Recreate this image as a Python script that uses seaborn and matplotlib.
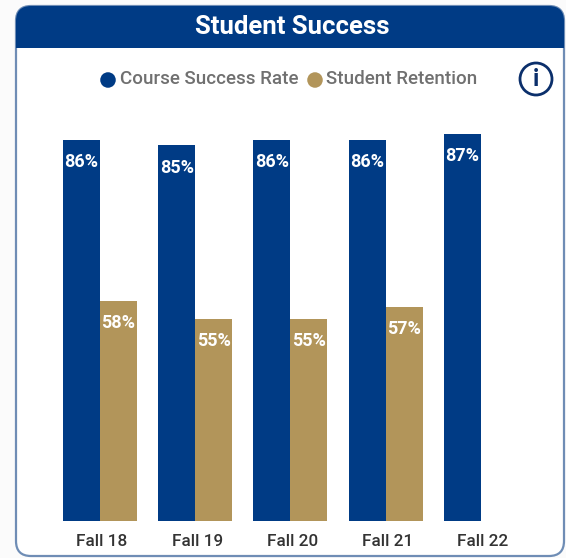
"""
Student Success card: course success rate and retention by fall term
"""
import numpy as np
import pandas as pd
import matplotlib
matplotlib.use('Agg')
import matplotlib.pyplot as plt
from matplotlib.patches import FancyBboxPatch, Rectangle, Circle
from matplotlib.transforms import ScaledTranslation
import seaborn as sns

terms = ['Fall 18', 'Fall 19', 'Fall 20', 'Fall 21', 'Fall 22']
course_success = [86, 85, 86, 86, 87]
retention = [58, 55, 55, 57, np.nan]

NAVY = '#003B85'
GOLD = '#B2955A'
W, H = 566, 558

sns.set_theme(style='white')
plt.rcParams['font.family'] = ['Roboto', 'DejaVu Sans']

df = pd.DataFrame({
    'term': terms * 2,
    'metric': ['Course Success Rate'] * 5 + ['Student Retention'] * 5,
    'value': course_success + retention,
})

fig = plt.figure(figsize=(W / 100, H / 100), dpi=100, facecolor='#FBFBFB')

# card background, in pixel coordinates
bg = fig.add_axes([0, 0, 1, 1])
bg.set_xlim(0, W)
bg.set_ylim(H, 0)
bg.axis('off')
card = FancyBboxPatch((16, 6), 548, 550, boxstyle='round,pad=0,rounding_size=15',
                      fc='white', ec='#6F8DB5', lw=1.6)
bg.add_patch(card)
header = Rectangle((16, 6), 548, 42, fc=NAVY, ec='none')
bg.add_patch(header)
header.set_clip_path(card)
bg.text(292, 27.5, 'Student Success', color='white', fontsize=18.5, fontweight='bold',
        ha='center', va='center')

# legend and info icon
bg.scatter([108, 315], [80, 80], s=125, c=[NAVY, GOLD], linewidths=0)
bg.text(120, 78.5, 'Course Success Rate', color='#707070', fontsize=13.5, fontweight='medium',
        ha='left', va='center')
bg.text(326, 78.5, 'Student Retention', color='#707070', fontsize=13.5, fontweight='medium',
        ha='left', va='center')
bg.add_patch(Circle((536, 79), 16, fc='white', ec='#0B2F6B', lw=2))
bg.text(536, 79.5, 'i', color='#0B2F6B', fontsize=17, fontweight='bold', ha='center', va='center')

# bars: both series share a value axis that starts at 20
ax = fig.add_axes([52.3 / W, (H - 520.5) / H, 476.2 / W, 440 / H])
ax.patch.set_alpha(0)
sns.barplot(data=df, x='term', y='value', hue='metric', order=terms,
            palette=[NAVY, GOLD], width=0.776, gap=0, saturation=1,
            linewidth=0, legend=False, ax=ax)
ax.set_xlim(-0.5, 4.5)
ax.set_ylim(20, 20 + 440 / 5.77)
ax.set_xlabel('')
ax.set_ylabel('')
ax.set_yticks([])
ax.tick_params(axis='x', length=0, pad=10, labelsize=12.3, labelcolor='#333333')
for lbl in ax.get_xticklabels():
    lbl.set_fontweight('medium')
    lbl.set_transform(lbl.get_transform() + ScaledTranslation(1.5 / 72, 0, fig.dpi_scale_trans))
sns.despine(ax=ax, left=True, bottom=True)

for container in ax.containers:
    ax.bar_label(container, fmt='%.0f%%', label_type='edge', padding=-22.5,
                 color='white', fontsize=13, fontweight='bold')

plt.savefig('out.png', dpi=100, facecolor=fig.get_facecolor())
plt.close()
